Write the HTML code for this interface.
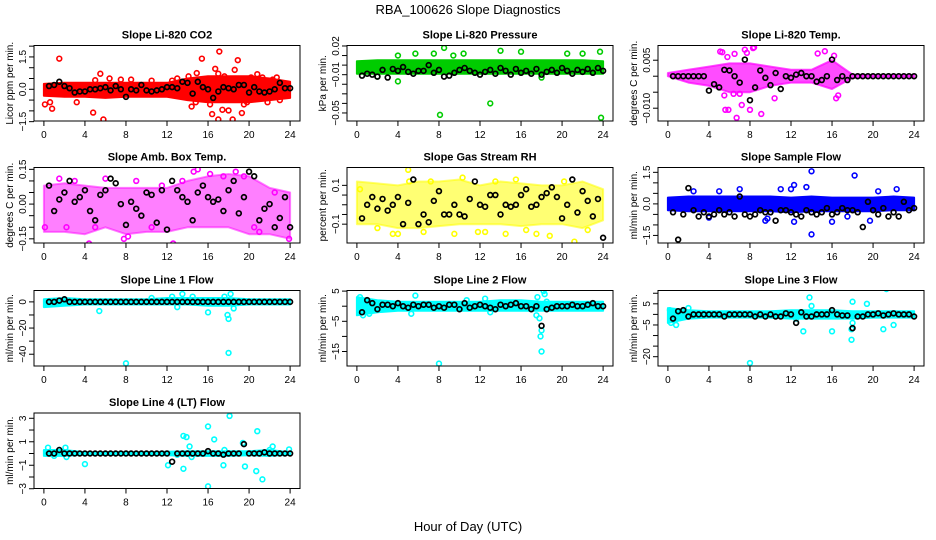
<!DOCTYPE html>
<html><head><meta charset="utf-8"><style>
html,body{margin:0;padding:0;background:#fff;}
svg{display:block;font-family:"Liberation Sans",sans-serif;}
</style></head><body>
<svg id="chart" width="936" height="540" viewBox="0 0 936 540">
<text x="468" y="14" font-size="13" text-anchor="middle">RBA_100626  Slope Diagnostics</text>
<text x="468" y="531" font-size="13" text-anchor="middle">Hour of Day (UTC)</text>
</svg>
<script>
const hoursTicks=[0,4,8,12,16,20,24];
const bandHours=[0,2,4,6,8,10,12,14,16,18,20,22,24];
const blkHours=[0.5,1,1.5,2,2.5,3,3.5,4,4.5,5,5.5,6,6.5,7,7.5,8,8.5,9,9.5,10,10.5,11,11.5,12,12.5,13,13.5,14,14.5,15,15.5,16,16.5,17,17.5,18,18.5,19,19.5,20,20.5,21,21.5,22,22.5,23,23.5,24];

// Panel 1 CO2
const co2Lo=[-0.3,-0.35,-0.35,-0.4,-0.35,-0.35,-0.35,-0.5,-0.6,-0.6,-0.6,-0.5,-0.4];
const co2Hi=[0.25,0.3,0.3,0.3,0.3,0.3,0.3,0.5,0.6,0.6,0.6,0.5,0.35];
const co2OutX=[0.1,0.6,0.8,1.5,3.2,5.0,4.8,5.5,5.8,6.4,7.5,8.5,10.5,14.1,14.4,14.9,15.4,16.4,16.7,17.0,17.0,17.1,17.4,18.0,18.4,18.6,18.9,19.3,19.8,20.8,21.3,22.7,23.4,12.5,13,14.8,16.2,17.6,19.5,20.2,21.8,22.3,23];
const co2OutY=[-0.7,-0.6,-0.9,1.42,-0.6,0.42,-1.08,0.72,-1.4,0.5,0.45,0.45,0.4,0.6,-0.8,0.75,1.42,-1.15,0.95,0.72,-1.4,1.75,-0.95,-0.98,-1.4,0.9,1.35,-1.1,-0.6,0.7,0.55,0.55,0.2,0.4,0.5,-0.6,-0.7,0.6,-0.7,0.55,-0.6,0.45,-0.5];
const co2Blk=[0.15,0.2,0.35,0.15,0.05,-0.15,-0.1,-0.1, 0.0,0.0,0.05,0.1,-0.05,0.15,0.0,-0.35, 0.0,-0.05,0.2,-0.05,-0.1,-0.05,0.0,0.1, 0.1,0.05,0.35,0.3,-0.2,0.35,0.1,0.0, -0.4,-0.1,0.1,0.05,0.0,0.2,0.2,-0.15, 0.1,-0.1,-0.15,-0.1,0.0,0.3,0.05,0.05];

// Panel 2 Pressure
const presLo=[-0.009,-0.009,-0.009,-0.009,-0.009,-0.009,-0.009,-0.009,-0.009,-0.009,-0.009,-0.009,-0.009];
const presHi=[0.004,0.005,0.005,0.005,0.005,0.005,0.005,0.005,0.005,0.005,0.005,0.005,0.004];
const presOutX=[8.1,4.0,13.0,23.8,8.5,5.7,7.5,9.4,16,20.5,23.7,4,18,10.4,14,22,2];
const presOutY=[-0.052,-0.017,-0.04,-0.055,0.018,0.012,0.012,0.01,0.014,0.012,0.014,0.01,-0.013,0.012,0.015,0.012,-0.012];
const presBlk=[-0.011,-0.009,-0.01,-0.012,-0.005,-0.013,-0.004,-0.006, -0.002,-0.007,-0.009,-0.006,-0.006,0.0,-0.008,-0.005, -0.012,-0.011,-0.008,-0.005,-0.003,-0.006,-0.008,-0.01, -0.007,-0.005,-0.009,-0.003,-0.006,-0.01,-0.004,-0.008, -0.006,-0.009,-0.004,-0.01,-0.007,-0.005,-0.008,-0.003, -0.006,-0.009,-0.005,-0.007,-0.004,-0.008,-0.003,-0.006];

// Panel 3 Temp
const tempLo=[0,-0.002,-0.003,-0.005,-0.005,-0.003,-0.002,-0.002,-0.004,-0.0005,-0.0003,-0.0003,-0.0003];
const tempHi=[0.001,0.002,0.003,0.004,0.004,0.003,0.002,0.002,0.005,0.0005,0.0003,0.0003,0.0003];
const tempOutX=[5.3,5.8,6.5,7.5,8.3,7.7,6.7,5.6,5.9,7.2,8.0,9.1,6.4,7.0,5.5,10.4,16.4,16.6,14.6,15.3,16.2,8.4,5.1];
const tempOutY=[0.0075,0.006,0.007,0.0083,0.0088,0.0073,-0.013,-0.0105,-0.0105,-0.009,-0.0105,-0.0118,-0.0055,-0.0055,-0.006,-0.0069,-0.0069,-0.006,0.0071,0.0078,0.0064,0.009,0.0077];
const tempBlk=[0,0,0,0,0,0,0,-0.0045, -0.0025,-0.0035,0.002,0.0018,0,-0.002,0.0052,-0.0075, -0.0035,0.0018,-0.0005,-0.0028,0.001,-0.004,0,-0.0005, 0.0005,0.001,0,0,-0.0017,-0.0012,0,0.0052, -0.0012,0,-0.0012,0,0,0,0,0, 0,0,0,0,0,0,0,0];

// Panel 4 Amb box
const ambLo=[-0.12,-0.12,-0.13,-0.1,-0.13,-0.12,-0.12,-0.1,-0.1,-0.1,-0.13,-0.13,-0.15];
const ambHi=[0.08,0.09,0.08,0.07,0.07,0.07,0.07,0.1,0.12,0.13,0.12,0.07,0.05];
const ambOutX=[4.4,12.6,23.9,15.0,14.6,18.7,16.2,1.5,7.8,8.2,0.1,2.2,10.5,20.5,6,9,3.0,17.5,19.5,22.5,21,13.5,11.5,5];
const ambOutY=[-0.17,-0.17,-0.15,0.15,0.14,0.14,0.13,0.11,-0.15,-0.14,-0.1,-0.1,-0.1,-0.1,0.11,0.1,0.1,0.12,0.12,0.05,-0.12,0.1,0.08,-0.1];
const ambBlk=[0.08,-0.03,0.02,0.05,0.1,0.01,0.03,0.06, -0.03,-0.07,0.04,0.06,0.11,0.09,0.0,-0.09, 0.01,-0.02,-0.05,0.05,0.04,-0.08,0.06,-0.11, 0.1,0.06,0.03,0.01,-0.07,0.05,0.08,0.03, 0.01,0.02,-0.03,0.06,0.1,-0.04,0.03,0.14, 0.12,-0.07,-0.02,0.0,-0.1,-0.06,0.03,-0.1];

// Panel 5 RH
const rhLo=[-0.1,-0.1,-0.12,-0.12,-0.11,-0.1,-0.1,-0.1,-0.11,-0.1,-0.1,-0.12,-0.08];
const rhHi=[0.12,0.11,0.1,0.12,0.12,0.13,0.1,0.12,0.11,0.1,0.1,0.12,0.08];
const rhOutX=[5.0,5.1,4.0,3.5,6.5,10.3,9.5,11.8,14.5,17.5,21.2,0.3,18.8,22.5,7.2,15.5,20.2,16.5,2.0,13.5,12.5];
const rhOutY=[0.18,0.12,-0.15,-0.15,-0.14,0.14,-0.15,-0.14,-0.15,-0.15,-0.19,0.08,-0.16,-0.13,0.12,0.13,0.12,-0.13,-0.12,0.12,-0.14];
const rhBlk=[-0.07,0.0,0.04,-0.02,0.03,-0.03,0.0,0.04, -0.1,0.01,0.13,-0.1,-0.05,-0.09,0.02,0.07, -0.05,-0.05,0.0,-0.05,-0.06,0.03,0.12,0.0, -0.01,0.05,0.05,-0.05,0.0,-0.01,0.0,0.05, 0.08,-0.01,0.0,0.04,0.06,0.09,0.04,-0.07, 0.0,0.13,-0.04,0.07,0.02,-0.06,0.03,-0.17];

// Panel 6 Sample flow
const sfLo=[-0.3,-0.35,-0.35,-0.35,-0.35,-0.35,-0.4,-0.35,-0.35,-0.35,-0.35,-0.3,-0.3];
const sfHi=[0.3,0.35,0.35,0.35,0.35,0.35,0.3,0.35,0.3,0.3,0.3,0.35,0.3];
const sfOutX=[14.0,14.0,18.2,12.3,12.0,13.5,7.0,9.5,9.7,12.3,16.0,19.7,22.3,4.0,2.5,11.0,20.5,5.0,17.5];
const sfOutY=[1.55,-1.45,1.35,0.9,0.7,0.8,0.7,-0.8,-0.7,-0.85,-0.85,-0.8,0.7,-0.65,0.6,0.7,0.6,0.6,-0.6];
const sfBlk=[-0.4,-1.7,-0.5,0.75,-0.3,-0.6,-0.4,-0.6, -0.5,-0.3,-0.5,-0.4,-0.6,0.35,-0.5,-0.6, -0.5,-0.3,-0.4,-0.4,-0.8,-0.3,-0.3,-0.4, -0.5,-0.6,-0.3,-0.4,-0.5,-0.4,-0.2,-0.5, -0.4,-0.2,-0.3,-0.3,-0.4,-1.1,0.1,-0.3, -0.5,-0.2,-0.6,-0.4,-0.6,0.1,-0.3,-0.2];

// Panel 7 Line 1
const l1Lo=[-4,-3,-2,-2,-2,-2,-2,-2,-3,-3,-2,-2,-2];
const l1Hi=[2,3,2,2,2,2,3,3,3,3,2,2,2];
const l1OutX=[8.0,18.0,18,17.9,16,5.4,13.5,18.2,17.6,12.5,10.5,14.5,18.5,13];
const l1OutY=[-47,-39,-13,-10,-8,-7,6,6,4,4,3,4,-5,-4];
const l1Blk=[0,0,1,2,0,0,0,0, 0,0,0,0,0,0,0,0, 0,0,0,0,0,0,0,0, 0,0,0,0,0,0,0,0, 0,0,0,0,0,0,0,0, 0,0,0,0,0,0,0,0];

// Panel 8 Line 2
const l2Lo=[-3,-2,-1.5,-1.5,-1.5,-1.5,-1.5,-1.5,-1.5,-1.5,-1.5,-1.5,-1.5];
const l2Hi=[3,2,1.5,1.5,1.5,1.5,1.5,2,2,1.5,1.5,1.5,1.5];
const l2OutX=[8.0,18,17.9,18,17.8,17.5,18.2,18.3,17.6,5.7,0.3,0.6,5.3,1.2,12.5,10.7,18.5,13];
const l2OutY=[-19,-15,-10,-8,-4,-3,5,4,3,3.5,3,-3,-2.5,-2.5,2.5,2,1.5,-2];
const l2Blk=[-2,2,1,-1,0.5,0.5,0,1, 0,-0.5,0.5,0,0.5,0.5,-0.5,0, -0.5,0.5,0.5,-1,1,-0.5,0,0.5, 0,-0.5,-1,0.5,0,0.5,1,0, 0,-1,0,-6.5,-1,-0.5,0,0, 0,0.5,0,0,0.5,1,0,0];

// Panel 9 Line 3
const l3Lo=[-4,-2,-1.5,-1.5,-1.5,-1.5,-2,-2,-2,-2,-1.5,-1.5,-1.5];
const l3Hi=[3,2,1.5,1.5,1.5,1.5,2,2,2,1.5,1.5,1.5,1.5];
const l3OutX=[8.0,21.3,13.8,14.0,18,17.9,16,13.2,19.4,21,22,17.9,0.3,0.8,0.2,2,18,12.5];
const l3OutY=[-23,12,8,4,6,-12,-8,-8,5,-7,-5,-7,-4,-5,2,3,-4,-2];
const l3Blk=[-2,1.5,2,-1,0,0,0,0, 0,0,-1,0,0,0,0,0, -1,0,-1,0,-1,-1,0.5,0, -4,1,-1,-1,0,0,0,2, 0,-0.5,-0.5,-6.5,-1,-1,0,0, 0.5,-0.5,0,0.5,0,0,0,-1];

// Panel 10 Line 4
const l4Lo=[-0.2,-0.2,-0.1,-0.1,-0.1,-0.1,-0.15,-0.2,-0.2,-0.2,-0.15,-0.2,-0.1];
const l4Hi=[0.3,0.3,0.1,0.1,0.1,0.1,0.15,0.2,0.2,0.2,0.2,0.3,0.1];
const l4OutX=[0.4,1.5,2.1,2.2,1,4,12.1,13.6,13.9,13.6,14.2,14.4,16,16,16.6,17.5,17.6,18.1,19.4,19.6,20.8,20.7,21.3,22.3,22,23.9,13];
const l4OutY=[0.5,0.3,0.5,-0.3,-0.2,-0.9,-1.0,1.5,1.4,-1.3,0.6,-0.3,2.3,-2.8,1.2,-1.0,0.3,3.2,0.9,-1.1,1.9,-1.5,-2.2,0.6,0.3,0.35,-0.1];
const l4Blk=[0,0,0.3,0,0,0,0,0, 0,0,0,0,0,0,0,0, 0,0,0,0,0,0,0,0, -0.7,0,0,0,0,0,0,0.2, 0,0,-0.1,0,0,0,0.8,0, 0,0,0.1,0,0,0,0,0];

const panels=[
 {name:'co2',title:'Slope Li-820 CO2',yl:'Licor ppm per min.',col:0,row:0,c:'#ff0000',top:2.03,bot:-1.47,ticks:[2,1.5,1,0.5,0,-0.5,-1,-1.5],labels:{'1.5':'1.5','0':'0.0','-1.5':'\u22121.5'},lo:co2Lo,hi:co2Hi,ox:co2OutX,oy:co2OutY,blk:co2Blk,op:1},
 {name:'pressure',title:'Slope Li-820 Pressure',yl:'kPa per min.',col:1,row:0,c:'#00cc00',top:0.0205,bot:-0.0584,ticks:[0.02,0.01,0,-0.01,-0.02,-0.03,-0.04,-0.05],labels:{'0.02':'0.02','-0.01':'\u22120.01','-0.05':'\u22120.05'},lo:presLo,hi:presHi,ox:presOutX,oy:presOutY,blk:presBlk,op:1},
 {name:'temp',title:'Slope Li-820 Temp.',yl:'degrees C per min.',col:2,row:0,c:'#ff00ff',top:0.0096,bot:-0.014,ticks:[0.005,0,-0.005,-0.01],labels:{'0.005':'0.005','-0.01':'\u22120.010'},lo:tempLo,hi:tempHi,ox:tempOutX,oy:tempOutY,blk:tempBlk,op:0.7},
 {name:'amb-box-temp',title:'Slope Amb. Box Temp.',yl:'degrees C per min.',col:0,row:1,c:'#ff00ff',top:0.158,bot:-0.168,ticks:[0.15,0.1,0.05,0,-0.05,-0.1,-0.15],labels:{'0.15':'0.15','0':'0.00','-0.15':'\u22120.15'},lo:ambLo,hi:ambHi,ox:ambOutX,oy:ambOutY,blk:ambBlk,op:0.5},
 {name:'gas-stream-rh',title:'Slope Gas Stream RH',yl:'percent per min.',col:1,row:1,c:'#ffff00',top:0.192,bot:-0.197,ticks:[0.1,0.05,0,-0.05,-0.1],labels:{'0.1':'0.1','-0.1':'\u22120.1'},lo:rhLo,hi:rhHi,ox:rhOutX,oy:rhOutY,blk:rhBlk,op:0.55},
 {name:'sample-flow',title:'Slope Sample Flow',yl:'ml/min per min.',col:2,row:1,c:'#0000ff',top:1.73,bot:-1.86,ticks:[1.5,1,0.5,0,-0.5,-1,-1.5],labels:{'1.5':'1.5','0':'0.0','-1.5':'\u22121.5'},lo:sfLo,hi:sfHi,ox:sfOutX,oy:sfOutY,blk:sfBlk,op:1},
 {name:'line1-flow',title:'Slope Line 1 Flow',yl:'ml/min per min.',col:0,row:2,c:'#00ffff',top:8.7,bot:-49,ticks:[0,-10,-20,-30,-40],labels:{'0':'0','-20':'\u221220','-40':'\u221240'},lo:l1Lo,hi:l1Hi,ox:l1OutX,oy:l1OutY,blk:l1Blk,op:1},
 {name:'line2-flow',title:'Slope Line 2 Flow',yl:'ml/min per min.',col:1,row:2,c:'#00ffff',top:5.2,bot:-19.8,ticks:[5,0,-5,-10,-15],labels:{'5':'5','-5':'\u22125','-15':'\u221215'},lo:l2Lo,hi:l2Hi,ox:l2OutX,oy:l2OutY,blk:l2Blk,op:1},
 {name:'line3-flow',title:'Slope Line 3 Flow',yl:'ml/min per min.',col:2,row:2,c:'#00ffff',top:11.3,bot:-24.4,ticks:[10,5,0,-5,-10,-15,-20],labels:{'5':'5','-5':'\u22125','-20':'\u221220'},lo:l3Lo,hi:l3Hi,ox:l3OutX,oy:l3OutY,blk:l3Blk,op:1},
 {name:'line4-flow',title:'Slope Line 4 (LT) Flow',yl:'ml/min per min.',col:0,row:3,c:'#00ffff',top:3.45,bot:-2.98,ticks:[3,2,1,0,-1,-2,-3],labels:{'3':'3','1':'1','-1':'\u22121','-3':'\u22123'},lo:l4Lo,hi:l4Hi,ox:l4OutX,oy:l4OutY,blk:l4Blk,op:1}
];

const NS='http://www.w3.org/2000/svg';
const svg=document.getElementById('chart');
const colLeft=[34,347,658], rowTop=[45.5,167.5,290.5,413], W=266, H=75.5;
function mk(tag,attrs,parent){const e=document.createElementNS(NS,tag);for(const k in attrs)e.setAttribute(k,attrs[k]);(parent||svg).appendChild(e);return e;}

panels.forEach(p=>{
  const L=colLeft[p.col], T=rowTop[p.row];
  const xs=h=>L+9.9+h*(W-19.8)/24;
  const ys=v=>T+(p.top-v)/(p.top-p.bot)*H;
  const g=mk('g',{});
  
  
  const clip=mk('clipPath',{id:'clip-'+p.name},g);
  mk('rect',{x:L,y:T,width:W,height:H},clip);
  const plot=mk('g',{'clip-path':'url(#clip-'+p.name+')'},g);
  let pts=[];
  bandHours.forEach((h,i)=>pts.push(xs(h).toFixed(1)+','+ys(p.hi[i]).toFixed(1)));
  for(let i=bandHours.length-1;i>=0;i--)pts.push(xs(bandHours[i]).toFixed(1)+','+ys(p.lo[i]).toFixed(1));
  const band=mk('polygon',{points:pts.join(' '),fill:p.c,stroke:p.c,'stroke-width':2,'stroke-linejoin':'round','fill-opacity':p.op,'stroke-opacity':p.op},plot);
  
  
  p.ox.forEach((h,i)=>{
    const c=mk('circle',{cx:xs(h),cy:ys(p.oy[i]),r:2.4,fill:'none',stroke:p.c,'stroke-width':1.6},plot);
    
    
  });
  blkHours.forEach((h,i)=>{
    const c=mk('circle',{cx:xs(h),cy:ys(p.blk[i]),r:2.4,fill:'none',stroke:'#000','stroke-width':1.7},plot);
    
    
  });
  const box=mk('rect',{x:L,y:T,width:W,height:H,fill:'none',stroke:'#000','stroke-width':1},g);
  
  
  const t=mk('text',{x:L+W/2,y:T-7,'font-size':11,'font-weight':'bold','text-anchor':'middle'},g);
  t.textContent=p.title;
  
  
  hoursTicks.forEach(h=>{
    mk('line',{x1:xs(h),x2:xs(h),y1:T+H,y2:T+H+5,stroke:'#000'},g);
    const lb=mk('text',{x:xs(h),y:T+H+17,'font-size':10,'text-anchor':'middle'},g);
    lb.textContent=h;
    
    
  });
  p.ticks.forEach(v=>{
    mk('line',{x1:L-5,x2:L,y1:ys(v),y2:ys(v),stroke:'#000'},g);
    const key=String(v);
    if(p.labels[key]!==undefined){
      const lb=mk('text',{x:0,y:0,'font-size':10,'text-anchor':'middle',transform:'translate('+(L-8)+','+ys(v)+') rotate(-90)'},g);
      lb.textContent=p.labels[key];
      
      
    }
  });
  const yl=mk('text',{x:0,y:0,'font-size':10,'text-anchor':'middle',transform:'translate('+(L-21)+','+(T+H/2)+') rotate(-90)'},g);
  yl.textContent=p.yl;
  
  
});
</script>
</body></html>
